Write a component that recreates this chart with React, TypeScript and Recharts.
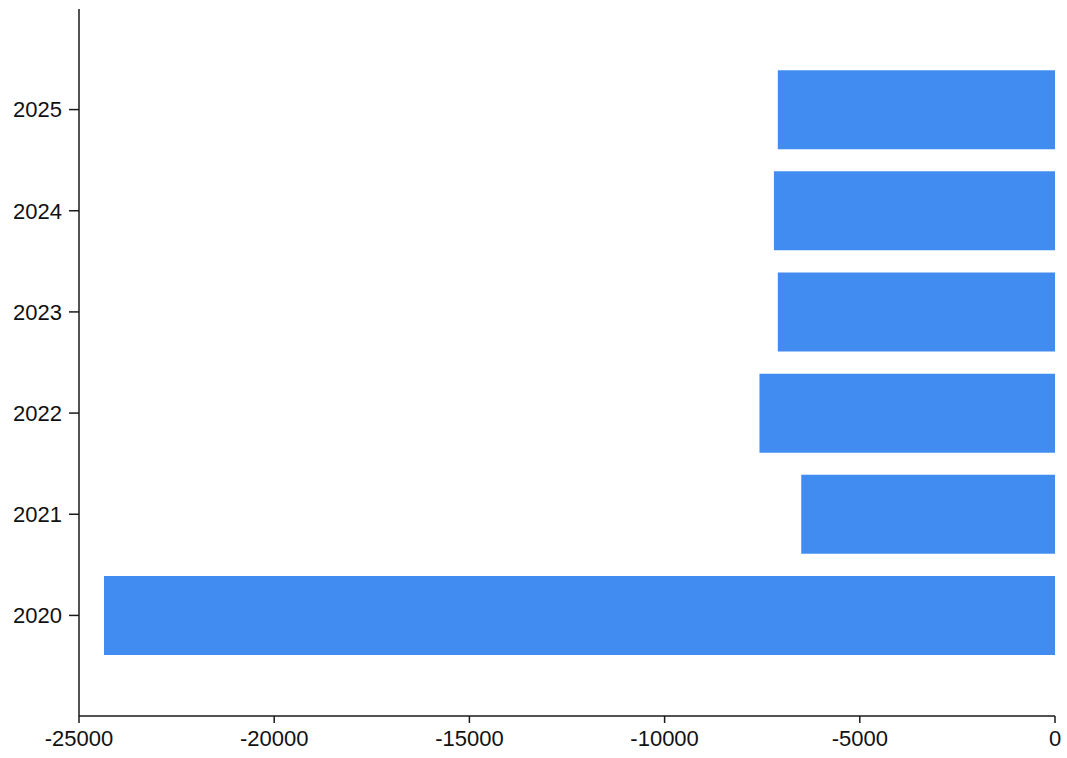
import { BarChart, Bar, XAxis, YAxis } from "recharts";

// years, bottom to top
const YEARS = ["2020", "2021", "2022", "2023", "2024", "2025"];
// bar values
const VALUES = [-24360, -6500, -7570, -7100, -7200, -7100];
const X_TICKS = [-25000, -20000, -15000, -10000, -5000, 0];

const BAR_COLOR = "#418cf0";
const AXIS_COLOR = "#1a1a1a";
const FONT = "'Liberation Sans', Arial, sans-serif";

const data = YEARS.map((year, i) => ({ year, value: VALUES[i] }));

export default function App() {
  return (
    <div style={{ position: "absolute", left: 0, top: 0, width: 1067, height: 758, background: "#fff" }}>
      <BarChart
        width={1067}
        height={758}
        data={data}
        layout="vertical"
        margin={{ top: 9, right: 12, bottom: 0, left: 0 }}
        barCategoryGap="11%"
      >
        <XAxis
          type="number"
          domain={[-25000, 0]}
          ticks={X_TICKS}
          interval={0}
          height={42}
          tickSize={7}
          tickMargin={7}
          axisLine={{ stroke: AXIS_COLOR, strokeWidth: 1.5 }}
          tickLine={{ stroke: AXIS_COLOR, strokeWidth: 1.5 }}
          tick={{ fill: "#111", fontSize: 22, fontFamily: FONT }}
        />
        <YAxis
          type="category"
          dataKey="year"
          reversed
          width={79}
          padding={{ top: 50, bottom: 50 }}
          tickSize={10}
          tickMargin={7}
          axisLine={{ stroke: AXIS_COLOR, strokeWidth: 1.5 }}
          tickLine={{ stroke: AXIS_COLOR, strokeWidth: 1.5 }}
          tick={{ fill: "#111", fontSize: 22, fontFamily: FONT }}
        />
        <Bar dataKey="value" fill={BAR_COLOR} isAnimationActive={false} />
      </BarChart>
    </div>
  );
}
